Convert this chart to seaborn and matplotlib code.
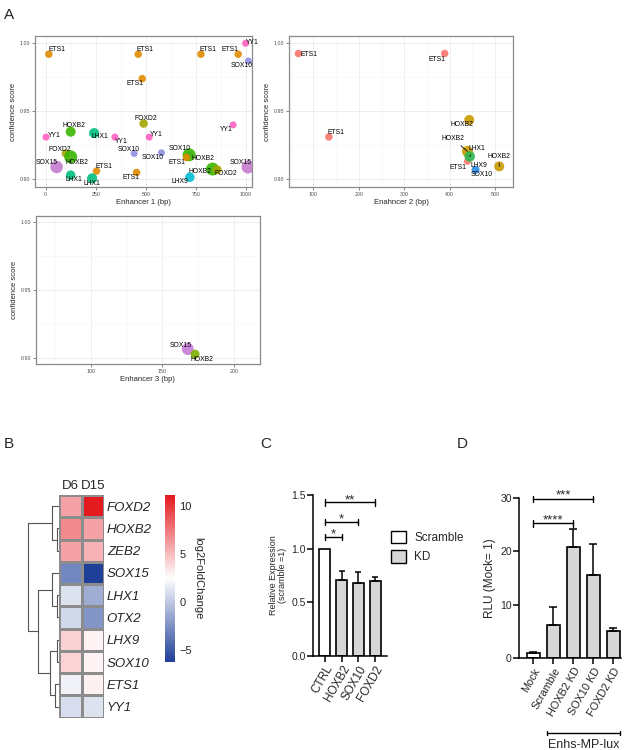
import numpy as np
import pandas as pd
import matplotlib
matplotlib.use("Agg")
import matplotlib.pyplot as plt
import seaborn as sns
from matplotlib.colors import LinearSegmentedColormap
from matplotlib.patches import Patch
import matplotlib.transforms as mtrans

sns.set_theme(style="white")
plt.rcParams["font.family"] = ["Liberation Sans", "DejaVu Sans"]

# ---------------- Panel A data ----------------
e1_tf = ['ETS1', 'ETS1', 'ETS1', 'ETS1', 'YY1', 'SOX10', 'ETS1', 'FOXD2', 'YY1', 'YY1',
         'HOXB2', 'LHX1', 'YY1', 'YY1', 'SOX10', 'SOX10', 'FOXD2', 'HOXB2', 'SOX15', 'ETS1',
         'LHX1', 'LHX1', 'ETS1', 'SOX10', 'HOXB2', 'ETS1', 'LHX9', 'HOXB2', 'FOXD2', 'SOX15']
e1_pos = [16, 462, 775, 961, 998, 1012, 482, 489, 936, 2,
          125, 242, 346, 517, 442, 578, 100, 125, 55, 254,
          125, 232, 454, 716, 716, 703, 720, 833, 856, 1010]
e1_score = [0.992, 0.992, 0.992, 0.992, 1.000, 0.987, 0.974, 0.941, 0.940, 0.931,
            0.935, 0.934, 0.931, 0.931, 0.919, 0.9195, 0.919, 0.9165, 0.909, 0.906,
            0.903, 0.9007, 0.905, 0.918, 0.918, 0.916, 0.9015, 0.9075, 0.907, 0.909]
e1_size = [7.5, 7.5, 7.5, 7.5, 7, 7, 7.5, 8.5, 7, 7,
           10, 10, 7, 7, 7, 7, 8, 13, 12.5, 7.5,
           9.5, 10, 7.5, 7, 13, 7.5, 9.5, 13, 9, 13]

e2_tf = ['ETS1', 'ETS1', 'ETS1', 'HOXB2', 'SOX10', 'LHX9', 'HOXB2', 'ETS1', 'LHX1', 'HOXB2']
e2_pos = [67, 389, 134, 443, 457, 457, 439, 439, 444, 509]
e2_score = [0.9925, 0.9925, 0.931, 0.9435, 0.9068, 0.9068, 0.9203, 0.913, 0.9166, 0.9093]
e2_size = [7.5, 7.5, 7.5, 10, 7, 8, 11, 7, 10.5, 10]

e3_tf = ['SOX15', 'HOXB2']
e3_pos = [167.8, 172.9]
e3_score = [0.9068, 0.903]
e3_size = [12, 9]

# label placement (pixels, dx right, dy down) and leader flags
e1_lab = [(8, -5), (7, -5), (7, -5), (-8, -5), (7, -1), (-7, 4), (-7, 4.5), (2, -5.5), (-7, 5), (8, -2),
          (3, -6), (6, 3.5), (6, 4.5), (7, -3), (-6, -4), (-9, 5), (-6, -4), (6, 6), (-10, -5), (7, -5),
          (3, 4.5), (0, 5.5), (-6, 5), (-9, -6), (14, 3.5), (-9, 5), (-10, 4.5), (-13, 2.5), (9, 4), (-7, -4.5)]
e2_lab = [(11, 1), (-8, 5.5), (7, -4.5), (-7, 4.5), (6, 5), (3, -4.5), (-14, -12.5), (-9, 6.5), (7, -8), (0, -10)]
e2_lead = [False, False, False, False, False, False, True, False, True, True]
e3_lab = [(-7, -4), (7, 5)]

pal1 = {'ETS1': '#E08B00', 'YY1': '#FF61C3', 'SOX10': '#8F91E3', 'FOXD2': '#A3A500',
        'HOXB2': '#39B600', 'LHX1': '#00BF7D', 'SOX15': '#C77CCF', 'LHX9': '#00BCD0'}
pal2 = {'ETS1': '#F8766D', 'HOXB2': '#C99A00', 'LHX1': '#2DB44F', 'LHX9': '#2B9AE8', 'SOX10': '#E76BF3'}
pal3 = {'SOX15': '#C77CD8', 'HOXB2': '#7CAE00'}

# ---------------- Panel B data ----------------
genes = ['FOXD2', 'HOXB2', 'ZEB2', 'SOX15', 'LHX1', 'OTX2', 'LHX9', 'SOX10', 'ETS1', 'YY1']
days = ['D6', 'D15']
d6 = [5.9, 6.8, 5.9, -2.9, 1.15, 0.7, 4.2, 4.1, 1.9, 0.9]
d15 = [11.0, 5.9, 5.3, -6.2, -1.2, -2.3, 2.9, 2.9, 3.0, 1.1]
# hierarchical clustering merges: (child a, child b, height); ids >= 10 are earlier merges
merges = [(1, 2, 2.6), (0, 10, 7.6), (4, 5, 2.6), (3, 12, 7.6), (6, 7, 2.0),
          (8, 9, 4.3), (14, 15, 9.3), (13, 16, 21.0), (11, 17, 32.0)]

# ---------------- Panel C data ----------------
c_groups = ['CTRL', 'HOXB2', 'SOX10', 'FOXD2']
c_cond = ['Scramble', 'KD', 'KD', 'KD']
c_mean = [1.0, 0.71, 0.68, 0.70]
c_err = [0.0, 0.08, 0.10, 0.035]
c_sig = [(0, 1, 1.11, '*'), (0, 2, 1.25, '*'), (0, 3, 1.43, '**')]

# ---------------- Panel D data ----------------
d_groups = ['Mock', 'Scramble', 'HOXB2 KD', 'SOX10 KD', 'FOXD2 KD']
d_cond = ['Mock', 'KD', 'KD', 'KD', 'KD']
d_mean = [1.0, 6.3, 20.8, 15.5, 5.1]
d_err = [0.2, 3.2, 3.3, 5.8, 0.5]
d_sig = [(0, 2, 25.2, '****'), (0, 3, 29.8, '***')]

# ---------------- figure ----------------
W, H = 629, 750
fig = plt.figure(figsize=(W / 100, H / 100), dpi=100)


def px_ax(l, t, r, b):
    return fig.add_axes([l / W, 1 - b / H, (r - l) / W, (b - t) / H])


def motif_panel(ax, tf, pos, score, size, pal, labs, leads, xlim, ylim, xticks, xminor, xlabel):
    df = pd.DataFrame({'tf': tf, 'pos': pos, 'score': score, 'size': size})
    sizes = {v: (0.72 * v) ** 2 for v in sorted(set(size))}
    sns.scatterplot(data=df, x='pos', y='score', hue='tf', palette=pal, size='size', sizes=sizes,
                    alpha=0.9, edgecolor='none', linewidth=0, legend=False, ax=ax, zorder=3)
    for i in range(len(tf)):
        dx, dy = labs[i]
        ap = None
        if leads is not None and leads[i]:
            ap = dict(arrowstyle='-', color='black', lw=0.6, shrinkA=0, shrinkB=0)
        ax.annotate(tf[i], (pos[i], score[i]), xytext=(dx, -dy), textcoords='offset pixels',
                    ha='center', va='center', fontsize=4.9, color='black', zorder=4,
                    arrowprops=ap)
    ax.set_xlim(*xlim)
    ax.set_ylim(*ylim)
    ax.set_xticks(xticks)
    ax.set_xticks(xminor, minor=True)
    ax.set_yticks([0.90, 0.95, 1.00])
    ax.set_yticklabels(['0.90', '0.95', '1.00'])
    ax.set_yticks([0.925, 0.975], minor=True)
    ax.grid(True, which='major', color='#EBEBEB', lw=0.6, zorder=0)
    ax.grid(True, which='minor', color='#F5F5F5', lw=0.4, zorder=0)
    ax.set_axisbelow(True)
    for s in ax.spines.values():
        s.set_visible(True)
        s.set_color('#8A8A8A')
        s.set_linewidth(0.9)
    ax.tick_params(which='major', length=2, width=0.5, color='#555555', labelsize=3.8,
                   labelcolor='#4D4D4D', pad=1.5, left=True, bottom=True)
    ax.tick_params(which='minor', length=0)
    ax.set_xlabel(xlabel, fontsize=5.5, labelpad=1.5)
    ax.set_ylabel('confidence score', fontsize=5.5, labelpad=2)


axA1 = px_ax(35, 36, 252, 187)
motif_panel(axA1, e1_tf, e1_pos, e1_score, e1_size, pal1, e1_lab, None,
            (-53, 1030), (0.8943, 1.0054), [0, 250, 500, 750, 1000], [125, 375, 625, 875],
            'Enhancer 1 (bp)')
axA2 = px_ax(289.3, 36, 513.3, 187)
motif_panel(axA2, e2_tf, e2_pos, e2_score, e2_size, pal2, e2_lab, e2_lead,
            (47, 540), (0.8941, 1.0054), [100, 200, 300, 400, 500], [50, 150, 250, 350, 450],
            'Enahncer 2 (bp)')
axA3 = px_ax(35.7, 215.7, 260, 364.3)
motif_panel(axA3, e3_tf, e3_pos, e3_score, e3_size, pal3, e3_lab, None,
            (61.2, 218.4), (0.8956, 1.0046), [100, 150, 200], [75, 125, 175],
            'Enhancer 3 (bp)')

# ---------------- Panel B ----------------
axH = px_ax(59.3, 495, 104, 717.7)
axDen = px_ax(27.3, 495, 59.3, 717.7)
axCb = px_ax(165, 495, 175, 661.7)
hm = pd.DataFrame({'D6': d6, 'D15': d15}, index=genes)
cmap = LinearSegmentedColormap.from_list('bwr_p', ['#1F3F98', '#FFFFFF', '#E3191F'])
sns.heatmap(hm, ax=axH, cmap=cmap, vmin=-6.2, vmax=11.1, linewidths=0.9, linecolor='#8C8C8C',
            xticklabels=True, yticklabels=True,
            cbar_ax=axCb, cbar_kws={'ticks': [10, 5, 0, -5]})
axH.xaxis.tick_top()
axH.set_xticks(np.arange(len(days)) + 0.5)
axH.set_xticklabels(days, rotation=0, fontsize=9.5)
axH.yaxis.tick_right()
axH.set_yticks(np.arange(len(genes)) + 0.5)
axH.set_yticklabels(genes, rotation=0, fontsize=9.5, fontstyle='italic')
axH.tick_params(length=0, pad=2)
axH.set_xlabel('')
axH.set_ylabel('')
axCb.tick_params(length=0, labelsize=8, pad=3)
axCb.set_yticks([10, 5, 0, -5])
axCb.set_yticklabels(['10', '5', '0', '\u22125'])
axCb.set_ylabel('log2FoldChange', rotation=270, fontsize=8, labelpad=8)
for s in axCb.spines.values():
    s.set_visible(False)
axH.collections[0].colorbar.outline.set_visible(False)

# dendrogram from merge list
n = len(genes)
ypos = {i: i + 0.5 for i in range(n)}
hgt = {i: 0.0 for i in range(n)}
for k, (a, b, h) in enumerate(merges):
    node = n + k
    for c in (a, b):
        axDen.plot([hgt[c], h], [ypos[c], ypos[c]], color='#555555', lw=0.8)
    axDen.plot([h, h], [ypos[a], ypos[b]], color='#555555', lw=0.8)
    ypos[node] = (ypos[a] + ypos[b]) / 2
    hgt[node] = h
axDen.set_xlim(32.3, 0)
axDen.set_ylim(n, 0)
axDen.axis('off')

# ---------------- Panel C ----------------
axC = px_ax(313.3, 495, 386.7, 655.7)
dfc = pd.DataFrame({'group': c_groups, 'mean': c_mean, 'cond': c_cond})
sns.barplot(data=dfc, x='group', y='mean', hue='cond', palette={'Scramble': 'white', 'KD': '#D6D6D6'},
            dodge=False, width=0.66, edgecolor='black', linewidth=1.2, legend=False, ax=axC,
            errorbar=None)
for i, (m, e) in enumerate(zip(c_mean, c_err)):
    if e > 0:
        axC.errorbar([i], [m], yerr=[[0], [e]], fmt='none', ecolor='black', elinewidth=1.1,
                     capsize=2.5, capthick=1.1, zorder=5)
axC.set_xlim(-0.7, 3.7)
axC.set_ylim(0, 1.5)
axC.set_yticks([0, 0.5, 1.0, 1.5])
axC.set_yticklabels(['0.0', '0.5', '1.0', '1.5'])
for s in ['top', 'right']:
    axC.spines[s].set_visible(False)
for s in ['left', 'bottom']:
    axC.spines[s].set_color('black')
    axC.spines[s].set_linewidth(1.1)
axC.tick_params(axis='both', direction='out', length=4, width=1.1, color='black', labelsize=7.5,
                left=True, bottom=True, pad=1.5)
axC.set_xticks(range(4))
axC.set_xticklabels(c_groups, rotation=60, ha='right', rotation_mode='anchor', fontsize=8.5)
axC.set_xlabel('')
axC.set_ylabel('Relative Expression\n(scramble =1)', fontsize=6.5, labelpad=3, linespacing=1.0)
for a, b, y, t in c_sig:
    axC.plot([a, b], [y, y], color='black', lw=1.0, clip_on=False)
    for xx in (a, b):
        axC.plot([xx, xx], [y - 0.03, y + 0.03], color='black', lw=1.0, clip_on=False)
    axC.annotate(t, ((a + b) / 2, y), xytext=(0, -1), textcoords='offset pixels', ha='center',
                 va='baseline', fontsize=9.5, annotation_clip=False)
axC.legend(handles=[Patch(facecolor='white', edgecolor='black', lw=1.0, label='Scramble'),
                    Patch(facecolor='#D6D6D6', edgecolor='black', lw=1.0, label='KD')],
           loc='center left', bbox_to_anchor=(391 / W, 1 - 547 / H), bbox_transform=fig.transFigure,
           frameon=False, fontsize=8.5, handlelength=1.25, handleheight=1.25, handletextpad=0.7,
           labelspacing=0.55, borderpad=0, borderaxespad=0)

# ---------------- Panel D ----------------
axD = px_ax(519.3, 497.7, 621, 658.3)
dfd = pd.DataFrame({'group': d_groups, 'mean': d_mean, 'cond': d_cond})
sns.barplot(data=dfd, x='group', y='mean', hue='cond', palette={'Mock': 'white', 'KD': '#D6D6D6'},
            dodge=False, width=0.63, edgecolor='black', linewidth=1.2, legend=False, ax=axD,
            errorbar=None)
axD.errorbar(range(len(d_mean)), d_mean, yerr=[np.zeros(len(d_err)), d_err], fmt='none',
             ecolor='black', elinewidth=1.1, capsize=3, capthick=1.1, zorder=5)
axD.set_xlim(-0.7, 4.385)
axD.set_ylim(0, 30)
axD.set_yticks([0, 10, 20, 30])
for s in ['top', 'right']:
    axD.spines[s].set_visible(False)
for s in ['left', 'bottom']:
    axD.spines[s].set_color('black')
    axD.spines[s].set_linewidth(1.1)
axD.tick_params(axis='both', direction='out', length=4, width=1.1, color='black', labelsize=7.5,
                left=True, bottom=True, pad=1.5)
axD.set_xticks(range(5))
axD.set_xticklabels(d_groups, rotation=60, ha='right', rotation_mode='anchor', fontsize=7.8)
axD.set_xlabel('')
axD.set_ylabel('RLU (Mock= 1)', fontsize=8.5, labelpad=3)
for a, b, y, t in d_sig:
    axD.plot([a, b], [y, y], color='black', lw=1.0, clip_on=False)
    for xx in (a, b):
        axD.plot([xx, xx], [y - 0.6, y + 0.6], color='black', lw=1.0, clip_on=False)
    axD.annotate(t, ((a + b) / 2, y), xytext=(0, 0), textcoords='offset pixels', ha='center',
                 va='baseline', fontsize=9.5, annotation_clip=False)
trD = mtrans.blended_transform_factory(axD.transData, axD.transAxes)
axD.plot([0.67, 4.33], [-0.465, -0.465], color='black', lw=1.0, transform=trD, clip_on=False)
for xx in (0.67, 4.33):
    axD.plot([xx, xx], [-0.45, -0.48], color='black', lw=1.0, transform=trD, clip_on=False)
axD.text(2.5, -0.50, 'Enhs-MP-lux', transform=trD, ha='center', va='top', fontsize=9)

# panel letters
for txt, x, y in [('A', 9, 15), ('B', 9, 444), ('C', 266, 444), ('D', 462, 444)]:
    fig.text(x / W, 1 - y / H, txt, fontsize=11, ha='center', va='center')

fig.savefig('out.png', dpi=100)
